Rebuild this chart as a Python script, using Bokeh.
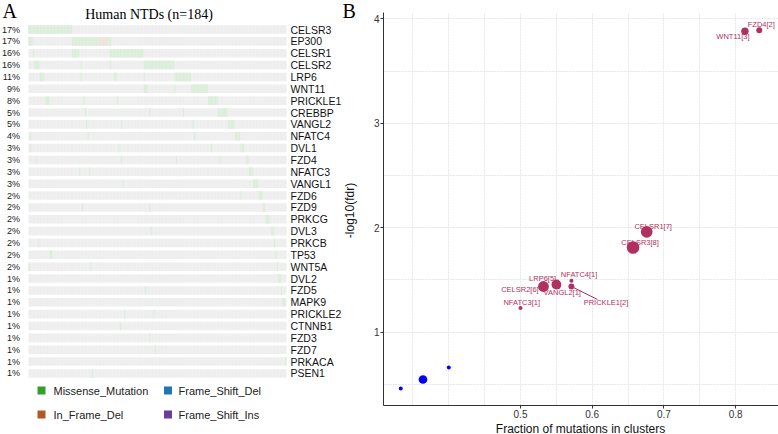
import math
from bokeh.plotting import figure
from bokeh.models import Range1d, FixedTicker, ColumnDataSource
from bokeh.core.properties import value
from bokeh.embed import file_html
from bokeh.resources import INLINE

# ---------------- data: panel A (oncoplot) ----------------
N_SAMPLES = 184
title_a = "Human NTDs (n=184)"
genes = ["CELSR3", "EP300", "CELSR1", "CELSR2", "LRP6", "WNT11", "PRICKLE1", "CREBBP",
         "VANGL2", "NFATC4", "DVL1", "FZD4", "NFATC3", "VANGL1", "FZD6", "FZD9", "PRKCG",
         "DVL3", "PRKCB", "TP53", "WNT5A", "DVL2", "FZD5", "MAPK9", "PRICKLE2", "CTNNB1",
         "FZD3", "FZD7", "PRKACA", "PSEN1"]
pct = ["17%", "17%", "16%", "16%", "11%", "9%", "8%", "5%", "5%", "4%", "3%", "3%", "3%",
       "3%", "2%", "2%", "2%", "2%", "2%", "2%", "2%", "1%", "1%", "1%", "1%", "1%", "1%",
       "1%", "1%", "1%"]

# mutated sample runs: gene, first sample, number of samples, variant class
mut_gene = ["CELSR3",
            "EP300", "EP300", "EP300", "EP300",
            "CELSR1", "CELSR1", "CELSR1",
            "CELSR2", "CELSR2", "CELSR2", "CELSR2",
            "LRP6", "LRP6", "LRP6", "LRP6", "LRP6",
            "WNT11", "WNT11", "WNT11",
            "PRICKLE1", "PRICKLE1", "PRICKLE1", "PRICKLE1",
            "CREBBP", "CREBBP", "CREBBP", "CREBBP",
            "VANGL2", "VANGL2", "VANGL2", "VANGL2",
            "NFATC4", "NFATC4", "NFATC4", "NFATC4",
            "DVL1", "DVL1", "DVL1", "DVL1",
            "FZD4", "FZD4", "FZD4", "FZD4", "FZD4",
            "NFATC3", "NFATC3", "NFATC3",
            "VANGL1", "VANGL1",
            "FZD6", "FZD6",
            "FZD9", "FZD9", "FZD9",
            "PRKCG",
            "DVL3", "DVL3",
            "PRKCB", "PRKCB",
            "TP53", "TP53",
            "WNT5A", "WNT5A", "WNT5A",
            "DVL2",
            "FZD5", "FZD5",
            "MAPK9",
            "PRICKLE2", "PRICKLE2",
            "CTNNB1", "FZD3", "FZD7", "PRKACA", "PSEN1"]
mut_start = [0,
             0, 31, 50, 56,
             3, 31, 58,
             4, 37, 58, 82,
             8, 37, 61, 82, 104,
             82, 104, 116,
             12, 39, 63, 128,
             40, 86, 110, 135,
             41, 66, 117, 142,
             1, 42, 118, 147,
             1, 64, 130, 151,
             5, 66, 105, 136, 155,
             36, 43, 157,
             67, 160,
             151, 164,
             38, 86, 167,
             169,
             87, 173,
             7, 175,
             15, 176,
             0, 44, 177,
             178,
             83, 180,
             181,
             68, 89,
             65, 86, 90, 183, 45]
mut_count = [31,
             3, 19, 6, 3,
             1, 5, 24,
             4, 1, 1, 22,
             3, 1, 2, 1, 12,
             3, 1, 12,
             3, 1, 1, 7,
             1, 1, 1, 7,
             1, 1, 1, 5,
             1, 1, 1, 4,
             1, 1, 1, 3,
             1, 1, 1, 1, 2,
             1, 1, 3,
             1, 4,
             1, 3,
             1, 1, 2,
             3,
             1, 2,
             1, 1,
             2, 1,
             1, 1, 1,
             2,
             1, 1,
             2,
             1, 1,
             1, 1, 1, 1, 1]
mut_type = ["Missense_Mutation"] * len(mut_start)
mut_type[3] = "In_Frame_Del"

legend_types = ["Missense_Mutation", "Frame_Shift_Del", "In_Frame_Del", "Frame_Shift_Ins"]

# ---------------- data: panel B (clusters) ----------------
clu_gene = ["FZD4", "WNT11", "CELSR1", "CELSR3", "NFATC4", "LRP6", "CELSR2", "VANGL2",
            "PRICKLE1", "NFATC3"]
clu_n = [2, 3, 7, 8, 1, 5, 6, 1, 2, 1]
clu_frac = [0.833, 0.813, 0.676, 0.657, 0.571, 0.550, 0.532, 0.553, 0.571, 0.500]
clu_score = [3.89, 3.88, 1.96, 1.81, 1.49, 1.455, 1.436, 1.43, 1.436, 1.23]
ns_n = [1, 4, 1]
ns_frac = [0.333, 0.364, 0.400]
ns_score = [0.46, 0.545, 0.66]

x_ticks_b = [0.5, 0.6, 0.7, 0.8]
y_ticks_b = [1, 2, 3, 4]
x_title_b = "Fraction of mutations in clusters"
y_title_b = "-log10(fdr)"

# ---------------- styles / layout ----------------
SANS = "Liberation Sans"
SERIF = "Liberation Serif"
MAROON = "#B03060"
BLUE = "#0000FF"
TYPE_COLOR = {"Missense_Mutation": "#33A02C", "Frame_Shift_Del": "#1F78B4",
              "In_Frame_Del": "#B15928", "Frame_Shift_Ins": "#6A3D9A"}
TYPE_FADED = {"Missense_Mutation": "#d6ecd5", "Frame_Shift_Del": "#d2e4f0",
              "In_Frame_Del": "#efded4", "Frame_Shift_Ins": "#e1d8eb"}

H = 434
W_L = 365
W_R = 778 - W_L
H_R = 421            # panel B canvas height; x-axis title strip below it
H_T = H - H_R
X0_PX = 28.0                    # left edge of the oncoplot bars
PX_PER_S = 258.0 / N_SAMPLES    # pixels per sample
ROW0_PX = 29.0                  # centre of the first row
ROW_PX = 11.86                  # row pitch


def sx(px):
    return (px - X0_PX) / PX_PER_S


def ry(py):
    return (py - ROW0_PX) / ROW_PX


def place(left, top):
    return {"position": "absolute", "left": f"{left}px", "top": f"{top}px"}


pL = figure(width=W_L, height=H, output_backend="svg", toolbar_location=None,
            x_range=Range1d(sx(0), sx(W_L)), y_range=Range1d(ry(H), ry(0)),
            x_axis_location=None, y_axis_location=None, min_border=0,
            min_border_left=0, min_border_right=0, min_border_top=0, min_border_bottom=0,
            styles=place(0, 0))
pL.grid.visible = False
pL.outline_line_color = None
pL.background_fill_color = "white"
pL.border_fill_color = "white"

n_rows = len(genes)
row_of = {g: i for i, g in enumerate(genes)}
HALF = 0.36

pL.quad(left=[0] * n_rows, right=[N_SAMPLES] * n_rows,
        top=[i - HALF for i in range(n_rows)], bottom=[i + HALF for i in range(n_rows)],
        fill_color="#ececec", line_color=None)

cells = ColumnDataSource(dict(
    left=mut_start,
    right=[s + c for s, c in zip(mut_start, mut_count)],
    top=[row_of[g] - HALF for g in mut_gene],
    bottom=[row_of[g] + HALF for g in mut_gene],
    color=[TYPE_FADED[t] for t in mut_type],
))
pL.quad(left="left", right="right", top="top", bottom="bottom", fill_color="color",
        line_color=None, source=cells)

# thin white separators between samples (cell texture)
pL.segment(x0=list(range(1, N_SAMPLES)), x1=list(range(1, N_SAMPLES)),
           y0=[-0.5] * (N_SAMPLES - 1), y1=[n_rows - 0.5] * (N_SAMPLES - 1),
           line_color="white", line_width=0.35, line_alpha=0.7)

pL.text(x=[sx(19.5)] * n_rows, y=list(range(n_rows)), text=pct,
        text_font=value(SANS), text_font_size="9px",
        text_align="right", text_baseline="middle", text_color="#1a1a1a")
pL.text(x=[sx(290)] * n_rows, y=list(range(n_rows)), text=genes,
        text_font=value(SANS), text_font_size="10.5px",
        text_align="left", text_baseline="middle", text_color="#111111")
pL.text(x=[sx(148.5)], y=[ry(13.5)], text=[title_a], text_font=value(SERIF),
        text_font_size="14px", text_align="center", text_baseline="middle",
        text_color="black")
pL.text(x=[sx(2)], y=[ry(10.5)], text=["A"], text_font=value(SERIF),
        text_font_size="20px", text_align="left", text_baseline="middle",
        text_color="black")

# legend
leg_sq_x = [sx(41), sx(167.5), sx(41), sx(167.5)]
leg_txt_x = [sx(53), sx(178), sx(53), sx(178)]
leg_y = [ry(390), ry(390), ry(414), ry(414)]
pL.scatter(x=leg_sq_x, y=leg_y, marker="square", size=8,
           fill_color=[TYPE_COLOR[t] for t in legend_types], line_color=None)
pL.text(x=leg_txt_x, y=leg_y, text=legend_types, text_font=value(SANS),
        text_font_size="11px", text_align="left", text_baseline="middle",
        text_color="#222222")

# panel B letter and y-axis title live in the left canvas (outside B's frame)
pL.text(x=[sx(342)], y=[ry(10.5)], text=["B"], text_font=value(SERIF),
        text_font_size="20px", text_align="left", text_baseline="middle",
        text_color="black")
pL.text(x=[sx(349)], y=[ry(210)], text=[y_title_b], angle=math.pi / 2,
        text_font=value(SANS), text_font_size="12px", text_align="center",
        text_baseline="middle", text_color="#111111")

# ---------------- panel B ----------------
FR_LEFT, FR_TOP, FR_BOTTOM = 383.0, 12.0, 405.0
PX_X = 717.0     # pixels per unit fraction
PX_Y = 104.4     # pixels per unit -log10(fdr)


def bx(px):
    return 0.5 + (px - 520.0) / PX_X


def by(py):
    return 1.0 + (331.5 - py) / PX_Y


pR = figure(width=W_R, height=H_R, output_backend="svg", toolbar_location=None,
            x_range=Range1d(bx(FR_LEFT), bx(778)), y_range=Range1d(by(FR_BOTTOM), by(FR_TOP)),
            min_border_left=int(FR_LEFT - W_L), min_border_right=0,
            min_border_top=int(FR_TOP), min_border_bottom=int(H_R - FR_BOTTOM),
            styles=place(W_L, 0))
pR.outline_line_color = None
pR.background_fill_color = "white"
pR.border_fill_color = "white"

pR.xgrid.ticker = FixedTicker(ticks=[0.35, 0.4, 0.45, 0.5, 0.55, 0.6, 0.65, 0.7, 0.75, 0.8])
pR.ygrid.ticker = FixedTicker(ticks=[0.5, 1, 1.5, 2, 2.5, 3, 3.5, 4])
for g in (pR.xgrid, pR.ygrid):
    g.grid_line_color = "#e6e6e6"
    g.grid_line_dash = "2 1"
    g.grid_line_width = 1

for ax in (pR.xaxis, pR.yaxis):
    ax.axis_line_color = "#333333"
    ax.axis_line_width = 1
    ax.major_tick_line_color = "#333333"
    ax.major_tick_out = 3
    ax.major_tick_in = 0
    ax.minor_tick_line_color = None
    ax.major_label_text_font = SANS
    ax.major_label_text_font_size = "10px"
    ax.major_label_text_color = "#333333"
    ax.major_label_standoff = 1
pR.xaxis.ticker = FixedTicker(ticks=x_ticks_b)
pR.yaxis.ticker = FixedTicker(ticks=y_ticks_b)


def size_of(n):
    return 2 * (2.35 * math.sqrt(n) - 0.35)


pR.scatter(x=ns_frac, y=ns_score, size=[size_of(n) for n in ns_n],
           fill_color=BLUE, line_color=None)
pR.scatter(x=clu_frac, y=clu_score, size=[size_of(n) for n in clu_n],
           fill_color=MAROON, line_color=None)

lab_dx = [2, -12, 6.5, 7, 7.7, -13.7, -23.5, 3.7, 34.6, 1.2]
lab_dy = [-5.8, 5.5, -5.7, -5.3, -6.5, -5.5, 3.5, 5.7, 16.5, -5.8]
labels = [f"{g}[{n}]" for g, n in zip(clu_gene, clu_n)]
pR.text(x=clu_frac, y=clu_score, text=labels, x_offset=lab_dx, y_offset=lab_dy,
        text_font=value(SANS), text_font_size="7.5px", text_align="center",
        text_baseline="middle", text_color=MAROON)

# repel segment for PRICKLE1
k = clu_gene.index("PRICKLE1")
pR.segment(x0=[clu_frac[k]], y0=[clu_score[k]],
           x1=[clu_frac[k] + 26 / PX_X], y1=[clu_score[k] - 13 / PX_Y],
           line_color=MAROON, line_width=1)

# x-axis title strip under panel B
pT = figure(width=W_R, height=H_T, output_backend="svg", toolbar_location=None,
            x_range=Range1d(W_L, W_L + W_R), y_range=Range1d(H, H_R),
            x_axis_location=None, y_axis_location=None, min_border=0,
            min_border_left=0, min_border_right=0, min_border_top=0, min_border_bottom=0,
            styles=place(W_L, H_R))
pT.grid.visible = False
pT.outline_line_color = None
pT.background_fill_color = "white"
pT.border_fill_color = "white"
pT.text(x=[580], y=[428], text=[x_title_b], text_font=value(SANS),
        text_font_size="12px", text_align="center", text_baseline="middle",
        text_color="#111111")

open("out.html", "w").write(file_html([pL, pR, pT], INLINE))
